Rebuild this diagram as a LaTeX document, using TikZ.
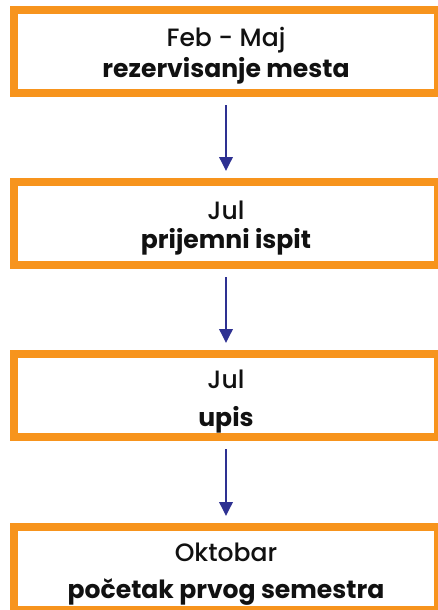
\documentclass[tikz,border=0pt]{standalone}
\usepackage{fontspec}
\setmainfont{Poppins}
\newfontfamily\medfont{Poppins Medium}
\usetikzlibrary{arrows.meta}
\definecolor{boxorange}{HTML}{F7941D}
\definecolor{arrblue}{HTML}{2E3192}
\definecolor{txt}{HTML}{111111}
\tikzset{
  stagebox/.style={draw=boxorange, line width=6pt, fill=white, rectangle, inner sep=0pt,
    minimum width=318pt, minimum height=62.25pt},
  lbl/.style={anchor=base, inner sep=0pt, text=txt, font=\fontsize{18.8}{22}\selectfont\medfont},
  lblb/.style={lbl, font=\fontsize{18.8}{22}\selectfont\bfseries},
  flow/.style={draw=arrblue, line width=1.85pt, -{Triangle[length=10.5pt,width=10pt]},
    shorten <=6pt, shorten >=5.25pt}
}
\begin{document}
\begin{tikzpicture}[x=0.75pt,y=-0.75pt]
\useasboundingbox (0,0) rectangle (438,610);
\clip (0,0) rectangle (438,610);
\node[stagebox] (b1) at (226,51.5) {};
\node[stagebox] (b2) at (226,223.5) {};
\node[stagebox] (b3) at (226,395.5) {};
\node[stagebox] (b4) at (226,568.5) {};
\node[lbl]  (t1a) at (226,47) {Feb - Maj};
\node[lblb] (t1b) at (226,78) {rezervisanje mesta};
\node[lbl]  (t2a) at (226,219) {Jul};
\node[lblb] (t2b) at (226,248) {prijemni ispit};
\node[lbl]  (t3a) at (226,388) {Jul};
\node[lblb] (t3b) at (226,426) {upis};
\node[lbl]  (t4a) at (226,561) {Oktobar};
\node[lblb] (t4b) at (226,598) {početak prvog semestra};
\draw[flow] (b1.south) -- (b2.north);
\draw[flow] (b2.south) -- (b3.north);
\draw[flow] (b3.south) -- (b4.north);
\end{tikzpicture}
\end{document}
